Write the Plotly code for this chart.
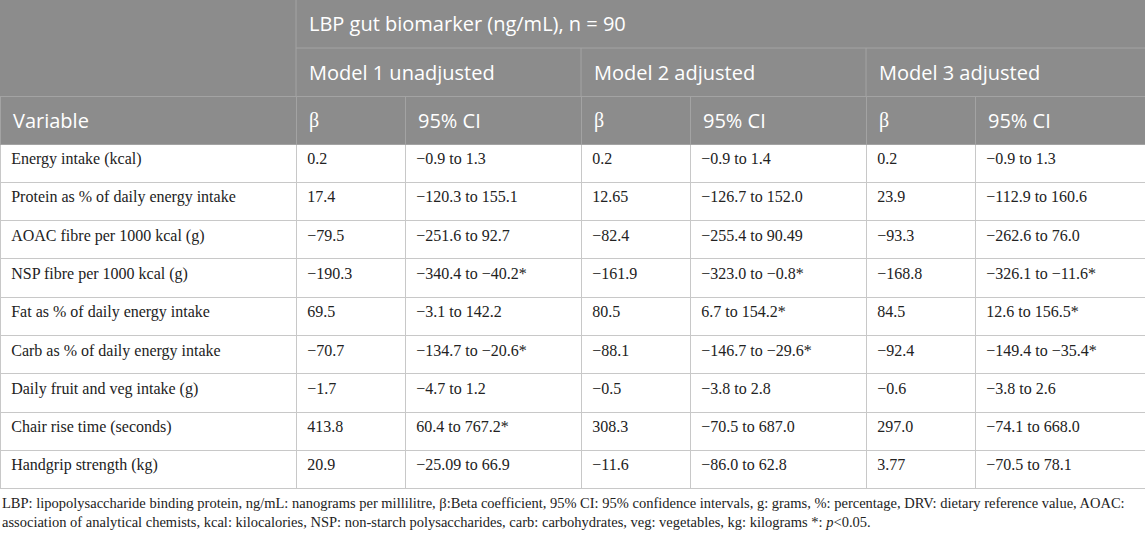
"""Regression table: LBP gut biomarker vs diet / function variables."""

import plotly.graph_objects as go

W, H = 1145, 535

variables = [
    "Energy intake (kcal)",
    "Protein as % of daily energy intake",
    "AOAC fibre per 1000 kcal (g)",
    "NSP fibre per 1000 kcal (g)",
    "Fat as % of daily energy intake",
    "Carb as % of daily energy intake",
    "Daily fruit and veg intake (g)",
    "Chair rise time (seconds)",
    "Handgrip strength (kg)",
]
m1_beta = ["0.2", "17.4", "−79.5", "−190.3", "69.5", "−70.7", "−1.7", "413.8", "20.9"]
m1_ci = ["−0.9 to 1.3", "−120.3 to 155.1", "−251.6 to 92.7", "−340.4 to −40.2*", "−3.1 to 142.2",
         "−134.7 to −20.6*", "−4.7 to 1.2", "60.4 to 767.2*", "−25.09 to 66.9"]
m2_beta = ["0.2", "12.65", "−82.4", "−161.9", "80.5", "−88.1", "−0.5", "308.3", "−11.6"]
m2_ci = ["−0.9 to 1.4", "−126.7 to 152.0", "−255.4 to 90.49", "−323.0 to −0.8*", "6.7 to 154.2*",
         "−146.7 to −29.6*", "−3.8 to 2.8", "−70.5 to 687.0", "−86.0 to 62.8"]
m3_beta = ["0.2", "23.9", "−93.3", "−168.8", "84.5", "−92.4", "−0.6", "297.0", "3.77"]
m3_ci = ["−0.9 to 1.3", "−112.9 to 160.6", "−262.6 to 76.0", "−326.1 to −11.6*", "12.6 to 156.5*",
         "−149.4 to −35.4*", "−3.8 to 2.6", "−74.1 to 668.0", "−70.5 to 78.1"]

top_title = "LBP gut biomarker (ng/mL), n = 90"
model_titles = ["Model 1 unadjusted", "Model 2 adjusted", "Model 3 adjusted"]
col_headers = ["Variable", "β", "95% CI", "β", "95% CI", "β", "95% CI"]
footnote = (
    "LBP: lipopolysaccharide binding protein, ng/mL: nanograms per millilitre, β:Beta coefficient, "
    "95% CI: 95% confidence intervals, g: grams, %: percentage, DRV: dietary reference value, AOAC:<br>"
    "association of analytical chemists, kcal: kilocalories, NSP: non-starch polysaccharides, "
    "carb: carbohydrates, veg: vegetables, kg: kilograms *: <i>p</i>&lt;0.05."
)

# layout (pixels)
col_w = [296, 109, 176, 109, 176, 109, 170]
hdr_h = 48
row_h = 38.3
pad = 11

HEAD_BG = "#8c8c8c"
HEAD_LINE = "#a3a3a3"
BODY_LINE = "#c8c8c8"
SANS = "Open Sans"
SERIF = "Liberation Serif"
HEAD_FONT = dict(family=SANS, size=20, color="white")


def px(x):
    return x / W


def py(y):
    return 1 - y / H


edges = [0]
for w in col_w:
    edges.append(edges[-1] + w)

columns = [variables, m1_beta, m1_ci, m2_beta, m2_ci, m3_beta, m3_ci]
# thin space nudges the cell text a few pixels right, like the original padding
cell_vals = [["\u2009" + v for v in col] for col in columns]

fig = go.Figure(
    go.Table(
        domain=dict(x=[0, 1], y=[0, py(2 * hdr_h)]),
        columnwidth=col_w,
        header=dict(
            values=[""] * len(col_headers),
            fill_color=HEAD_BG,
            line=dict(color=HEAD_LINE, width=1),
            height=hdr_h,
        ),
        cells=dict(
            values=cell_vals,
            fill_color="white",
            line=dict(color=BODY_LINE, width=1),
            font=dict(family=SERIF, size=16, color="#222222"),
            align="left",
            height=row_h,
        ),
    )
)

# merged header rows above the table
shapes = [
    dict(type="rect", xref="paper", yref="paper", x0=0, x1=1, y0=py(2 * hdr_h), y1=1,
         fillcolor=HEAD_BG, line_width=0, layer="below"),
    dict(type="line", xref="paper", yref="paper", x0=px(edges[1]), x1=px(edges[1]),
         y0=py(2 * hdr_h), y1=1, line=dict(color=HEAD_LINE, width=1)),
    dict(type="line", xref="paper", yref="paper", x0=px(edges[1]), x1=1,
         y0=py(hdr_h), y1=py(hdr_h), line=dict(color=HEAD_LINE, width=1)),
]
for i in (3, 5):
    shapes.append(dict(type="line", xref="paper", yref="paper", x0=px(edges[i]), x1=px(edges[i]),
                       y0=py(2 * hdr_h), y1=py(hdr_h), line=dict(color=HEAD_LINE, width=1)))


def head_label(text, left, ymid):
    return dict(text=text, x=px(left + pad), y=py(ymid), xref="paper", yref="paper",
                xanchor="left", yanchor="middle", showarrow=False, font=HEAD_FONT)


annotations = [head_label(top_title, edges[1], hdr_h / 2)]
for k, title in enumerate(model_titles):
    annotations.append(head_label(title, edges[1 + 2 * k], hdr_h * 1.5))
for k, name in enumerate(col_headers):
    # the beta glyph is set in the serif face in the original
    if name == "β":
        name = f'<span style="font-family:{SERIF}">β</span>'
    annotations.append(head_label(name, edges[k], hdr_h * 2.5))

table_bottom = 3 * hdr_h + row_h * len(variables)
annotations.append(
    dict(text=footnote, x=0, y=py(table_bottom + 4), xref="paper", yref="paper",
         xanchor="left", yanchor="top", align="left", showarrow=False,
         font=dict(family=SERIF, size=14.5, color="#222222"))
)

fig.update_layout(
    width=W,
    height=H,
    margin=dict(l=0, r=0, t=0, b=0),
    paper_bgcolor="white",
    shapes=shapes,
    annotations=annotations,
)
fig.write_html(
    "out.html",
    config={"displayModeBar": False},
    post_script="document.body.style.margin='0px';",
)
